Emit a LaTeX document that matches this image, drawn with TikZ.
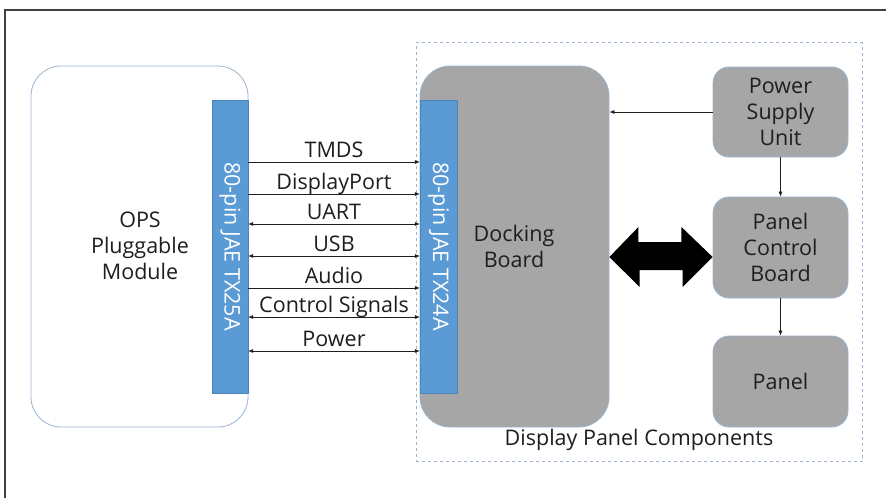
\documentclass[tikz,border=0pt]{standalone}
\usepackage{fontspec}
\setmainfont{Open Sans}
\usepackage{tikz}
\usetikzlibrary{%
  arrows.meta,%
  calc
}
\definecolor{pinblue}{HTML}{5B9BD5}
\definecolor{boxgray}{HTML}{A6A6A6}
\definecolor{edgeblue}{HTML}{9AB4D2}
\definecolor{txtgray}{HTML}{1E1E1E}

\begin{document}
\begin{tikzpicture}[x=1pt,y=-1pt,
    every node/.style={font=\fontsize{21.5}{26}\selectfont,text=txtgray,align=center},
    module/.style={draw=edgeblue,line width=0.8pt,rounded corners=30pt},
    pin/.style={fill=pinblue,draw=pinblue!85!black,line width=0.4pt,minimum width=36pt,minimum height=293pt,inner sep=0pt},
    part/.style={module,fill=boxgray,rounded corners=16pt,minimum width=135pt,inner sep=0pt},
    sig/.style={line width=0.6pt,draw=txtgray},
    siglabel/.style={above=-4pt,text height=16pt,text depth=5pt}]
    \useasboundingbox (0,0) rectangle (886,498);
    \draw [line width=1.4pt,draw=black!75] (5,498) -- (5,10) -- (886,10);
    % display panel side
    \node [draw=edgeblue,dashed,line width=0.8pt,minimum width=446pt,minimum height=419pt,inner sep=0pt]
      (dpc) at (639,252) {};
    \node (dpclabel) at (639,440) {Display Panel Components};
    \node [module,fill=white,minimum width=217pt,minimum height=361pt] (ops) at (139.5,246.5) {};
    \node (opstext) at (140,246) {OPS\\Pluggable\\Module};
    \node [module,fill=boxgray,minimum width=189pt,minimum height=361pt] (dock) at (514.5,246.5) {};
    \node (docktext) at (514,246) {Docking\\Board};
    \node [pin] (lpin) at (230,246.5) {};
    \node [pin,minimum width=37pt] (rpin) at (438.5,246.5) {};
    \node [rotate=-90,text=white] at (lpin) {80-pin JAE TX25A};
    \node [rotate=-90,text=white] at (rpin) {80-pin JAE TX24A};
    \node [part,minimum height=90pt] (psu) at (780.5,112) {Power\\Supply\\Unit};
    \node [part,minimum height=101pt] (pcb) at (780.5,247.5) {Panel\\Control\\Board};
    \node [part,minimum height=91pt] (panel) at (780.5,381.5) {Panel};
    % connectors
    \foreach \y/\name/\tips in {162/TMDS/-{Latex[length=5pt,width=4pt]},
                                194/DisplayPort/-{Latex[length=5pt,width=4pt]},
                                224/UART/{Latex[length=5pt,width=4pt]}-{Latex[length=5pt,width=4pt]},
                                256/USB/{Latex[length=5pt,width=4pt]}-{Latex[length=5pt,width=4pt]},
                                288/Audio/-{Latex[length=5pt,width=4pt]},
                                317/Control Signals/{Latex[length=5pt,width=4pt]}-{Latex[length=5pt,width=4pt]},
                                351/Power/{Latex[length=5pt,width=4pt]}-{Latex[length=5pt,width=4pt]}}
      \draw [sig,\tips] (lpin.east |- 0,\y) -- node [siglabel] {\name} (rpin.west |- 0,\y);
    \draw [sig,-{Latex[length=5pt,width=4pt]}] (psu.west) -- (dock.east |- psu.west);
    \draw [sig,-{Latex[length=5pt,width=4pt]}] (psu.south) -- (pcb.north);
    \draw [sig,-{Latex[length=5pt,width=4pt]}] (pcb.south) -- (panel.north);
    \fill [black] (dock.east |- 0,257) -- ++(29,-30) -- ++(0,15) -- ++(43,0) -- ++(0,-15)
      -- (pcb.west |- 0,257) -- ++(-30,30) -- ++(0,-17) -- ++(-43,0) -- ++(0,17) -- cycle;
  \end{tikzpicture}
\end{document}
